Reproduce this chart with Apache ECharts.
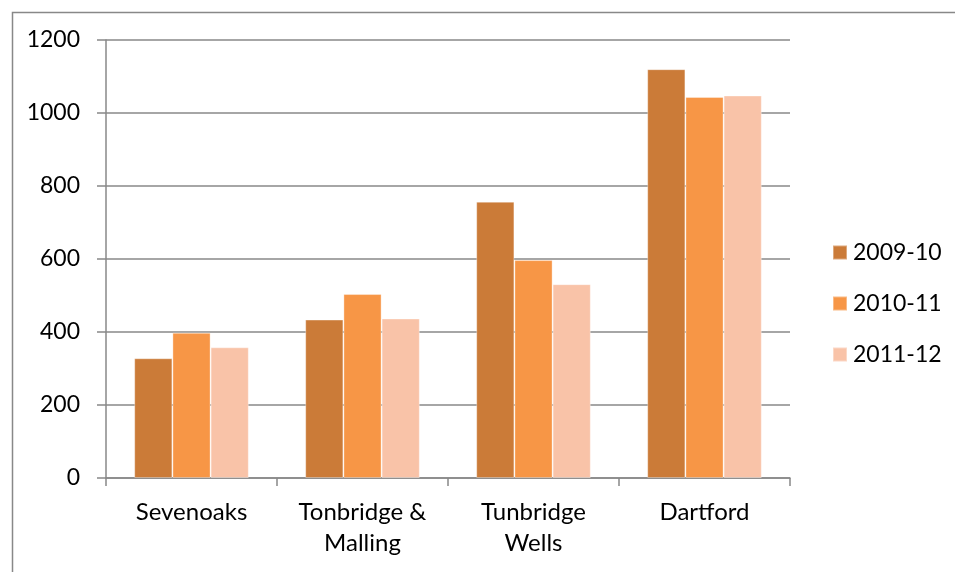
<!DOCTYPE html>
<html>
<head>
<meta charset="utf-8">
<script src="https://cdn.jsdelivr.net/npm/echarts@6/dist/echarts.min.js"></script>
<style>
html,body{margin:0;padding:0;background:#fff;}
#c{width:955px;height:572px;}
</style>
</head>
<body>
<div id="c"></div>
<script>
const categories = ['Sevenoaks', 'Tonbridge &\nMalling', 'Tunbridge\nWells', 'Dartford'];
const seriesNames = ['2009-10', '2010-11', '2011-12'];
const values2009 = [328, 434, 757, 1120];
const values2010 = [398, 504, 597, 1044];
const values2011 = [358, 437, 531, 1048];
const yTicks = { min: 0, max: 1200, interval: 200 };
const colors = ['#CB7B38', '#F79646', '#F9C3A8'];

const font = 'Lato, "Open Sans", sans-serif';
const chart = echarts.init(document.getElementById('c'), null, { renderer: 'canvas' });
const data = [values2009, values2010, values2011];
chart.setOption({
  animation: false,
  backgroundColor: '#fff',
  graphic: [{
    type: 'rect', left: 10, top: 10, silent: true,
    shape: { width: 1000, height: 700 },
    style: { fill: 'none', stroke: '#888', lineWidth: 1.5 }
  }],
  grid: { left: 106, right: 165, top: 40, bottom: 94 },
  legend: {
    orient: 'vertical', left: 827, top: 236,
    itemWidth: 14, itemHeight: 14, itemGap: 28,
    icon: 'rect',
    textStyle: { fontFamily: font, fontSize: 23, color: '#000', lineHeight: 20, padding: [0, 0, 0, 1] },
    data: seriesNames
  },
  xAxis: {
    type: 'category', data: categories,
    axisLine: { lineStyle: { color: '#888', width: 1.5 } },
    axisTick: { show: true, length: 8, lineStyle: { color: '#888', width: 1.5 } },
    axisLabel: { fontFamily: font, fontSize: 24, color: '#000', margin: 19, lineHeight: 31 }
  },
  yAxis: {
    type: 'value', min: yTicks.min, max: yTicks.max, interval: yTicks.interval,
    axisLine: { show: true, lineStyle: { color: '#888', width: 1.5 } },
    axisTick: { show: true, length: 9, lineStyle: { color: '#888', width: 1.5 } },
    splitLine: { lineStyle: { color: '#888', width: 1.5 } },
    axisLabel: { fontFamily: font, fontSize: 23, color: '#000', margin: 26, formatter: v => String(v) }
  },
  series: seriesNames.map((n, i) => ({
    name: n, type: 'bar', data: data[i],
    barGap: '0%', barCategoryGap: '33%',
    itemStyle: { color: colors[i], borderColor: 'rgba(255,255,255,0.35)', borderWidth: 1 }
  }))
});
</script>
</body>
</html>
